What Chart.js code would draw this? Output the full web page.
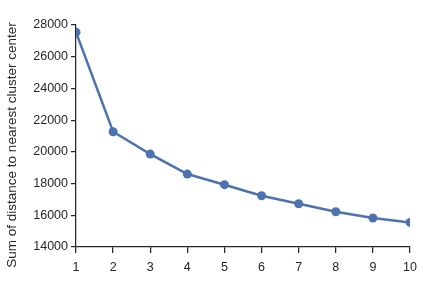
<!DOCTYPE html>
<html>
<head>
<meta charset="utf-8">
<script src="https://cdn.jsdelivr.net/npm/chart.js@4"></script>
<style>
	html, body { margin: 0; padding: 0; background: #fff; }
	#wrap { width: 424px; height: 281px; }
</style>
</head>
<body>
<div id="wrap"><canvas id="elbowChart" width="424" height="281"></canvas></div>
<script>
// number of clusters and the matching sum of distances
const clusterCounts = [1, 2, 3, 4, 5, 6, 7, 8, 9, 10];
const distanceSums = [27540, 21270, 19860, 18600, 17930, 17230, 16730, 16220, 15830, 15550];

const yTicks = [14000, 16000, 18000, 20000, 22000, 24000, 26000, 28000];
const yTitle = 'Sum of distance to nearest cluster center';

const inkColor = '#262626';
const lineColor = '#4C72B0';

// the y title sits a bit below the centre of the axis in the original,
// so draw it ourselves instead of using the scale title
const yTitlePlugin = {
	id: 'yTitle',
	afterDraw(chart) {
		const ctx = chart.ctx;
		ctx.save();
		ctx.translate(12, 145);
		ctx.rotate(-Math.PI / 2);
		ctx.fillStyle = inkColor;
		ctx.font = '13.5px "Liberation Sans"';
		ctx.textAlign = 'center';
		ctx.textBaseline = 'middle';
		ctx.fillText(yTitle, 0, 0);
		ctx.restore();
	}
};

function renderElbow() {
	const ctx = document.getElementById('elbowChart').getContext('2d');

	new Chart(ctx, {
		type: 'line',
		data: {
			datasets: [{
				data: clusterCounts.map((k, i) => ({ x: k, y: distanceSums[i] })),
				borderColor: lineColor,
				backgroundColor: lineColor,
				borderWidth: 2.5,
				pointRadius: 4.5,
				pointBorderWidth: 0,
				pointHoverRadius: 4.5,
				clip: 0,
				fill: false,
				tension: 0,
			}]
		},
		plugins: [yTitlePlugin],
		options: {
			responsive: false,
			animation: false,
			events: [],
			layout: {
				padding: { top: 25, right: 13, left: 0, bottom: 0 }
			},
			plugins: {
				legend: { display: false },
				tooltip: { enabled: false },
			},
			scales: {
				x: {
					type: 'linear',
					min: 1,
					max: 10,
					afterFit: scale => { scale.height = 34; },
					grid: {
						drawOnChartArea: false,
						drawTicks: true,
						tickLength: 6,
						color: inkColor,
						lineWidth: 1.25,
					},
					border: { display: true, color: inkColor, width: 1.25 },
					ticks: {
						stepSize: 1,
						padding: 7,
						color: inkColor,
						font: { family: 'Liberation Sans', size: 12.5 },
					}
				},
				y: {
					min: 14000,
					max: 28000,
					afterFit: scale => { scale.width = 76; },
					afterBuildTicks: scale => { scale.ticks = yTicks.map(v => ({ value: v })); },
					grid: {
						drawOnChartArea: false,
						drawTicks: true,
						tickLength: 5,
						color: inkColor,
						lineWidth: 1.25,
					},
					border: { display: true, color: inkColor, width: 1.25 },
					ticks: {
						padding: 3,
						color: inkColor,
						font: { family: 'Liberation Sans', size: 12.5 },
						callback: v => String(v),
					}
				}
			}
		}
	});
}

renderElbow();
</script>
</body>
</html>
